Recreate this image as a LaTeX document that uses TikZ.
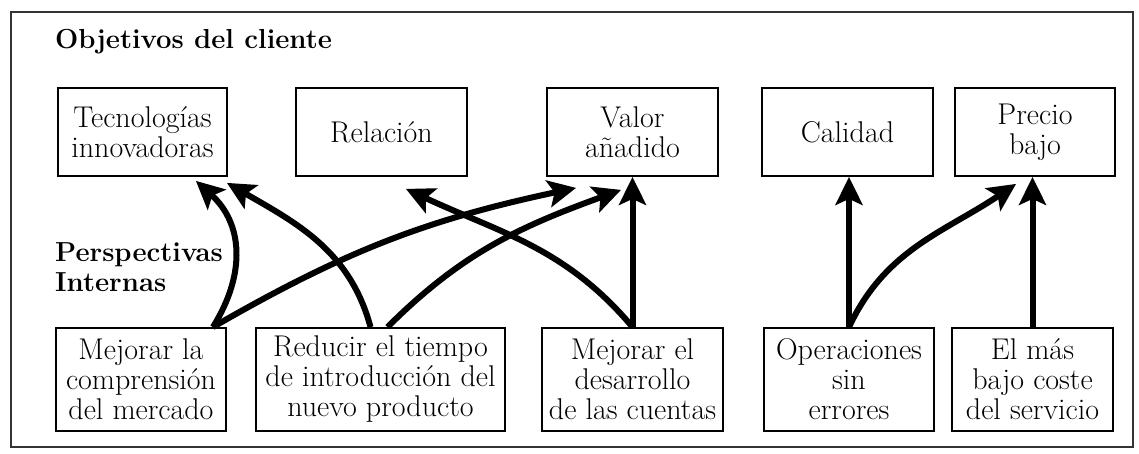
\documentclass[tikz,border=0pt]{standalone}
\usepackage{tikz}
\usetikzlibrary{arrows.meta}

\newcommand{\boxfont}{\fontsize{30}{30}\selectfont}
\newcommand{\headfont}{\fontsize{27.5}{30}\selectfont\bfseries}

\tikzset{
  goalbox/.style={draw, line width=1.8pt, inner sep=0pt, align=center,
    minimum height=88pt, font=\boxfont},
  procbox/.style={draw, line width=1.8pt, inner sep=0pt, align=center,
    minimum height=103pt, font=\boxfont},
  link/.style={line width=6pt, -{Stealth[length=28pt,width=27pt,inset=6pt]}}
}

\begin{document}
\begin{tikzpicture}[x=1pt,y=1pt]
  \useasboundingbox (0,0) rectangle (1139,454);
  %% frame
  \draw[line width=1.6pt, black!80] (11,7) rectangle (1133,442);

  %% headings
  \node[font=\headfont, anchor=base west, inner sep=0pt] (objhead) at (55,405) {Objetivos del cliente};
  \node[font=\headfont, anchor=base west, inner sep=0pt, align=left] (perhead) at (55,162)
    {Perspectivas\\Internas};

  %% customer objectives
  \node[goalbox, minimum width=169pt] (tecno) at (142.5,322) {Tecnologías\\innovadoras};
  \node[goalbox, minimum width=171pt] (relac) at (381.5,322) {Relación};
  \node[goalbox, minimum width=171pt] (valor) at (632.5,322) {Valor\\añadido};
  \node[goalbox, minimum width=171pt] (calid) at (847.5,322) {Calidad};
  \node[goalbox, minimum width=160pt] (precio) at (1035,322) {Precio\\bajo};

  %% internal perspectives
  \node[procbox, minimum width=170pt] (mejla) at (141,74.5) {Mejorar la\\comprensión\\del mercado};
  \node[procbox, minimum width=249pt] (reduc) at (380.5,74.5) {Reducir el tiempo\\de introducción del\\nuevo producto};
  \node[procbox, minimum width=181pt] (mejel) at (632.5,74.5) {Mejorar el\\desarrollo\\de las cuentas};
  \node[procbox, minimum width=170pt] (oper) at (849,74.5) {Operaciones\\sin\\errores};
  \node[procbox, minimum width=161pt] (elmas) at (1032.5,74.5) {El más\\bajo coste\\del servicio};

  %% links
  \draw[link] ([xshift=-14pt]mejla.north east) to[out=58, in=-42, looseness=1.1] ([xshift=-32pt,yshift=-4pt]tecno.south east);
  \draw[link] ([xshift=-14pt]mejla.north east) to[out=30, in=192] ([xshift=30pt,yshift=-11pt]valor.south west);
  \draw[link] ([xshift=-10pt]reduc.north) to[out=105, in=-30] ([xshift=-1pt,yshift=-6pt]tecno.south east);
  \draw[link] ([xshift=7pt]reduc.north) to[out=45, in=200] ([xshift=75pt,yshift=-13pt]valor.south west);
  \draw[link] (mejel.north) to[out=130, in=-25] ([xshift=-62pt,yshift=-12pt]relac.south east);
  \draw[link] (mejel.north) -- (valor.south);
  \draw[link] (oper.north) -- (oper.north |- calid.south);
  \draw[link] (oper.north) to[out=65, in=214] ([xshift=62pt,yshift=-7pt]precio.south west);
  \draw[link] (elmas.north) -- (elmas.north |- precio.south);
\end{tikzpicture}
\end{document}
